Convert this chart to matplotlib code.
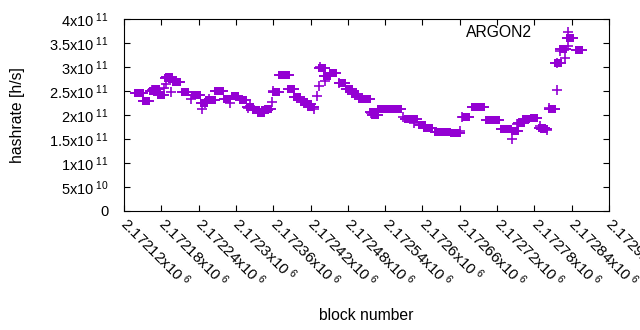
import numpy as np
import matplotlib
matplotlib.use('Agg')
import matplotlib.pyplot as plt
from matplotlib.ticker import FixedLocator, FuncFormatter

plt.rcParams['font.family'] = ['Liberation Sans', 'DejaVu Sans']
plt.rcParams['mathtext.fontset'] = 'custom'
plt.rcParams['mathtext.rm'] = 'Liberation Sans'
plt.rcParams['mathtext.it'] = 'Liberation Sans:italic'

# averaged points (filled squares)
blocks_sq = [2172142, 2172146, 2172156, 2172167, 2172171, 2172179, 2172190,
             2172192, 2172204, 2172205, 2172218, 2172234, 2172237, 2172249,
             2172257, 2172262, 2172271, 2172274, 2172285, 2172299, 2172311,
             2172322, 2172332, 2172340, 2172347, 2172352, 2172364, 2172374,
             2172380, 2172389, 2172399, 2172409, 2172416, 2172420, 2172439,
             2172447, 2172456, 2172471, 2172482, 2172491, 2172502, 2172510,
             2172521, 2172523, 2172534, 2172541, 2172547, 2172553, 2172560,
             2172576, 2172582, 2172587, 2172599, 2172607, 2172610, 2172625,
             2172627, 2172640, 2172651, 2172656, 2172670, 2172685, 2172689,
             2172694, 2172707, 2172713, 2172718, 2172731, 2172737, 2172749,
             2172759, 2172766, 2172779, 2172793, 2172796, 2172808, 2172818,
             2172826, 2172838, 2172851]
rate_sq = np.array([2.453, 2.453, 2.286, 2.508, 2.537, 2.412, 2.767,
                    2.788, 2.696, 2.696, 2.474, 2.412, 2.412, 2.245,
                    2.313, 2.313, 2.502, 2.502, 2.328, 2.397, 2.307,
                    2.173, 2.104, 2.036, 2.104, 2.119, 2.487, 2.836,
                    2.836, 2.537, 2.370, 2.265, 2.224, 2.173, 2.976,
                    2.815, 2.871, 2.662, 2.537, 2.433, 2.328, 2.328,
                    2.063, 2.000, 2.119, 2.119, 2.119, 2.119, 2.119,
                    1.910, 1.910, 1.910, 1.791, 1.722, 1.722, 1.651,
                    1.651, 1.638, 1.618, 1.618, 1.952, 2.161, 2.161,
                    2.161, 1.895, 1.895, 1.895, 1.707, 1.707, 1.666,
                    1.833, 1.916, 1.927, 1.722, 1.701, 2.125, 3.093,
                    3.369, 3.603, 3.352]) * 1e11

# single blocks (crosses)
blocks_px = [2172165, 2172184, 2172187, 2172192, 2172196, 2172227, 2172245,
             2172250, 2172256, 2172290, 2172319, 2172323, 2172358, 2172360,
             2172426, 2172430, 2172434, 2172436, 2172444, 2172466, 2172517,
             2172568, 2172586, 2172660, 2172664, 2172744, 2172752, 2172789,
             2172800, 2172804, 2172816, 2172816, 2172821, 2172829, 2172834,
             2172834]
rate_px = np.array([2.522, 2.558, 2.648, 2.767, 2.474, 2.324, 2.119,
                    2.245, 2.341, 2.245, 2.140, 2.188, 2.278, 2.502,
                    2.125, 2.397, 2.612, 2.997, 2.717, 2.675, 2.048,
                    1.964, 1.827, 1.672, 1.964, 1.492, 1.806, 1.770,
                    1.687, 2.153, 2.522, 3.093, 3.338, 3.185, 3.448,
                    3.741]) * 1e11

xticks = np.arange(2172120, 2172901, 60)
yticks = np.arange(0, 4.01e11, 5e10)
color = '#9400d3'


def xfmt(v, pos):
    return '{:g}x10$^{{\\ 6}}$'.format(v / 1e6)


def yfmt(v, pos):
    if v == 0:
        return '0'
    exp = int(np.floor(np.log10(v)))
    return '{:g}x10$^{{\\ {}}}$'.format(v / 10 ** exp, exp)


fig = plt.figure(figsize=(6.4, 3.3), dpi=100)
ax = fig.add_axes([124 / 640, 1 - 210.7 / 330, 485 / 640, 191.4 / 330])

ax.plot(blocks_px, rate_px, ls='none', marker='+', ms=7, mew=1.2, color=color)
ax.plot(blocks_sq, rate_sq, ls='none', marker='_', ms=12, mew=1.4, color=color)
ax.plot(blocks_sq, rate_sq, ls='none', marker='s', ms=5.8, mew=0, color=color)

ax.set_xlim(2172120, 2172900)
ax.set_ylim(0, 4e11)
ax.xaxis.set_major_locator(FixedLocator(xticks))
ax.yaxis.set_major_locator(FixedLocator(yticks))
ax.xaxis.set_major_formatter(FuncFormatter(xfmt))
ax.yaxis.set_major_formatter(FuncFormatter(yfmt))
ax.tick_params(direction='in', length=4, width=0.8, top=True, right=True,
               labelsize=10.5)
ax.tick_params(axis='y', pad=11)
ax.tick_params(axis='x', pad=7, labelsize=11)
for lab in ax.get_xticklabels():
    lab.set_rotation(-45)
    lab.set_ha('left')
    lab.set_va('center')
    lab.set_rotation_mode('anchor')

ax.set_xlabel('block number', fontsize=11.3)
ax.set_ylabel('hashrate [h/s]', fontsize=11.3)
ax.xaxis.set_label_coords(0.5, -0.508)
ax.yaxis.set_label_coords(-0.205, 0.5)
ax.text(0.8406, 0.929, 'ARGON2', transform=ax.transAxes, ha='right',
        va='center', fontsize=11.3)

fig.savefig('out.png', dpi=100)
